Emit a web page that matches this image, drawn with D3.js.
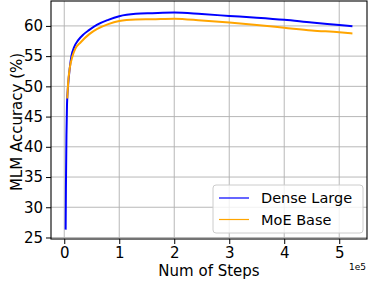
<!DOCTYPE html>
<html>
<head>
<meta charset="utf-8">
<script src="https://cdn.jsdelivr.net/npm/d3@7"></script>
<style>
  body { margin: 0; background: #fff; }
  svg { display: block; font-family: "DejaVu Sans", sans-serif; }
</style>
</head>
<body>
<div id="chart"></div>
<script>
// steps in units of 1e5
const denseSteps = [0.025, 0.03, 0.04, 0.05, 0.07, 0.1, 0.13, 0.18, 0.25, 0.35, 0.45, 0.6, 0.8, 1.0, 1.3, 1.6, 2.0, 2.5, 3.0, 3.5, 4.0, 4.5, 5.0, 5.24];
const denseAcc = [26.3, 33, 42, 47, 50.2, 53, 55, 56.5, 57.6, 58.6, 59.3, 60.2, 61.0, 61.6, 62.0, 62.1, 62.2, 61.95, 61.65, 61.35, 61.0, 60.55, 60.15, 59.95];
const moeSteps = [0.055, 0.07, 0.1, 0.15, 0.2, 0.3, 0.45, 0.6, 0.8, 1.0, 1.3, 1.6, 2.0, 2.5, 3.0, 3.5, 4.0, 4.5, 5.0, 5.24];
const moeAcc = [48.0, 50.5, 53, 55, 56.2, 57.3, 58.6, 59.5, 60.3, 60.8, 61.05, 61.1, 61.2, 60.9, 60.55, 60.15, 59.7, 59.25, 58.95, 58.75];
const xTicks = [0, 1, 2, 3, 4, 5];
const yTicks = [25, 30, 35, 40, 45, 50, 55, 60];
const seriesNames = ["Dense Large", "MoE Base"];
const seriesColors = ["#0000ff", "#ffa500"];

drawChart();

function drawChart () {
  const width = 368;
  const height = 283;
  const margin = { top: 1, right: 1, bottom: 44, left: 51 };
  const innerW = width - margin.left - margin.right;
  const innerH = height - margin.top - margin.bottom;

  const svg = d3.select("#chart")
    .append("svg")
      .attr("width", width)
      .attr("height", height);

  const g = svg.append("g")
    .attr("transform", `translate(${margin.left}, ${margin.top})`);

  const x = d3.scaleLinear().domain([-0.241, 5.505]).range([0, innerW]);
  const y = d3.scaleLinear().domain([24.75, 64.12]).range([innerH, 0]);

  // grid
  g.append("g")
    .selectAll("line.gx")
    .data(xTicks)
    .enter().append("line")
      .attr("x1", d => x(d)).attr("x2", d => x(d))
      .attr("y1", 0).attr("y2", innerH)
      .attr("stroke", "#b0b0b0").attr("stroke-width", 0.9);
  g.append("g")
    .selectAll("line.gy")
    .data(yTicks)
    .enter().append("line")
      .attr("x1", 0).attr("x2", innerW)
      .attr("y1", d => y(d)).attr("y2", d => y(d))
      .attr("stroke", "#b0b0b0").attr("stroke-width", 0.9);

  // lines
  const series = [
    { steps: denseSteps, acc: denseAcc },
    { steps: moeSteps, acc: moeAcc }
  ];
  const line = d3.line()
    .x(d => x(d[0]))
    .y(d => y(d[1]))
    .curve(d3.curveMonotoneX);

  series.forEach((s, i) => {
    g.append("path")
      .datum(s.steps.map((st, j) => [st, s.acc[j]]))
      .attr("d", line)
      .attr("fill", "none")
      .attr("stroke", seriesColors[i])
      .attr("stroke-width", 2);
  });

  // axes
  const xAxis = d3.axisBottom(x).tickValues(xTicks).tickFormat(d3.format("d")).tickSize(5).tickPadding(3);
  const yAxis = d3.axisLeft(y).tickValues(yTicks).tickFormat(d3.format("d")).tickSize(5).tickPadding(3);

  const gx = g.append("g")
    .attr("transform", `translate(0, ${innerH})`)
    .call(xAxis);
  const gy = g.append("g").call(yAxis);

  [gx, gy].forEach(ax => {
    ax.select(".domain").remove();
    ax.selectAll("text")
      .attr("font-family", "DejaVu Sans")
      .attr("font-size", 15)
      .attr("fill", "#000");
    ax.selectAll("line").attr("stroke", "#000").attr("stroke-width", 1);
  });

  // frame
  g.append("rect")
    .attr("x", 0).attr("y", 0)
    .attr("width", innerW).attr("height", innerH)
    .attr("fill", "none")
    .attr("stroke", "#000")
    .attr("stroke-width", 1.1);

  // labels
  svg.append("text")
    .attr("x", 209)
    .attr("y", 275.5)
    .attr("text-anchor", "middle")
    .attr("font-size", 15)
    .text("Num of Steps");

  svg.append("text")
    .attr("transform", `translate(22, 122) rotate(-90)`)
    .attr("text-anchor", "middle")
    .attr("font-size", 15)
    .text("MLM Accuracy (%)");

  svg.append("text")
    .attr("x", 366)
    .attr("y", 270)
    .attr("text-anchor", "end")
    .attr("font-size", 9)
    .text("1e5");

  // legend
  const legend = svg.append("g").attr("transform", "translate(213, 185)");
  legend.append("rect")
    .attr("width", 150).attr("height", 48)
    .attr("rx", 3)
    .attr("fill", "#fff").attr("fill-opacity", 0.8)
    .attr("stroke", "#cccccc");

  seriesNames.forEach((name, i) => {
    const ly = 13 + i * 21.5;
    legend.append("line")
      .attr("x1", 6).attr("x2", 36)
      .attr("y1", ly).attr("y2", ly)
      .attr("stroke", seriesColors[i])
      .attr("stroke-width", 1.2);
    legend.append("text")
      .attr("x", 48)
      .attr("y", ly + 5)
      .attr("font-size", 14.5)
      .text(name);
  });
}
</script>
</body>
</html>
